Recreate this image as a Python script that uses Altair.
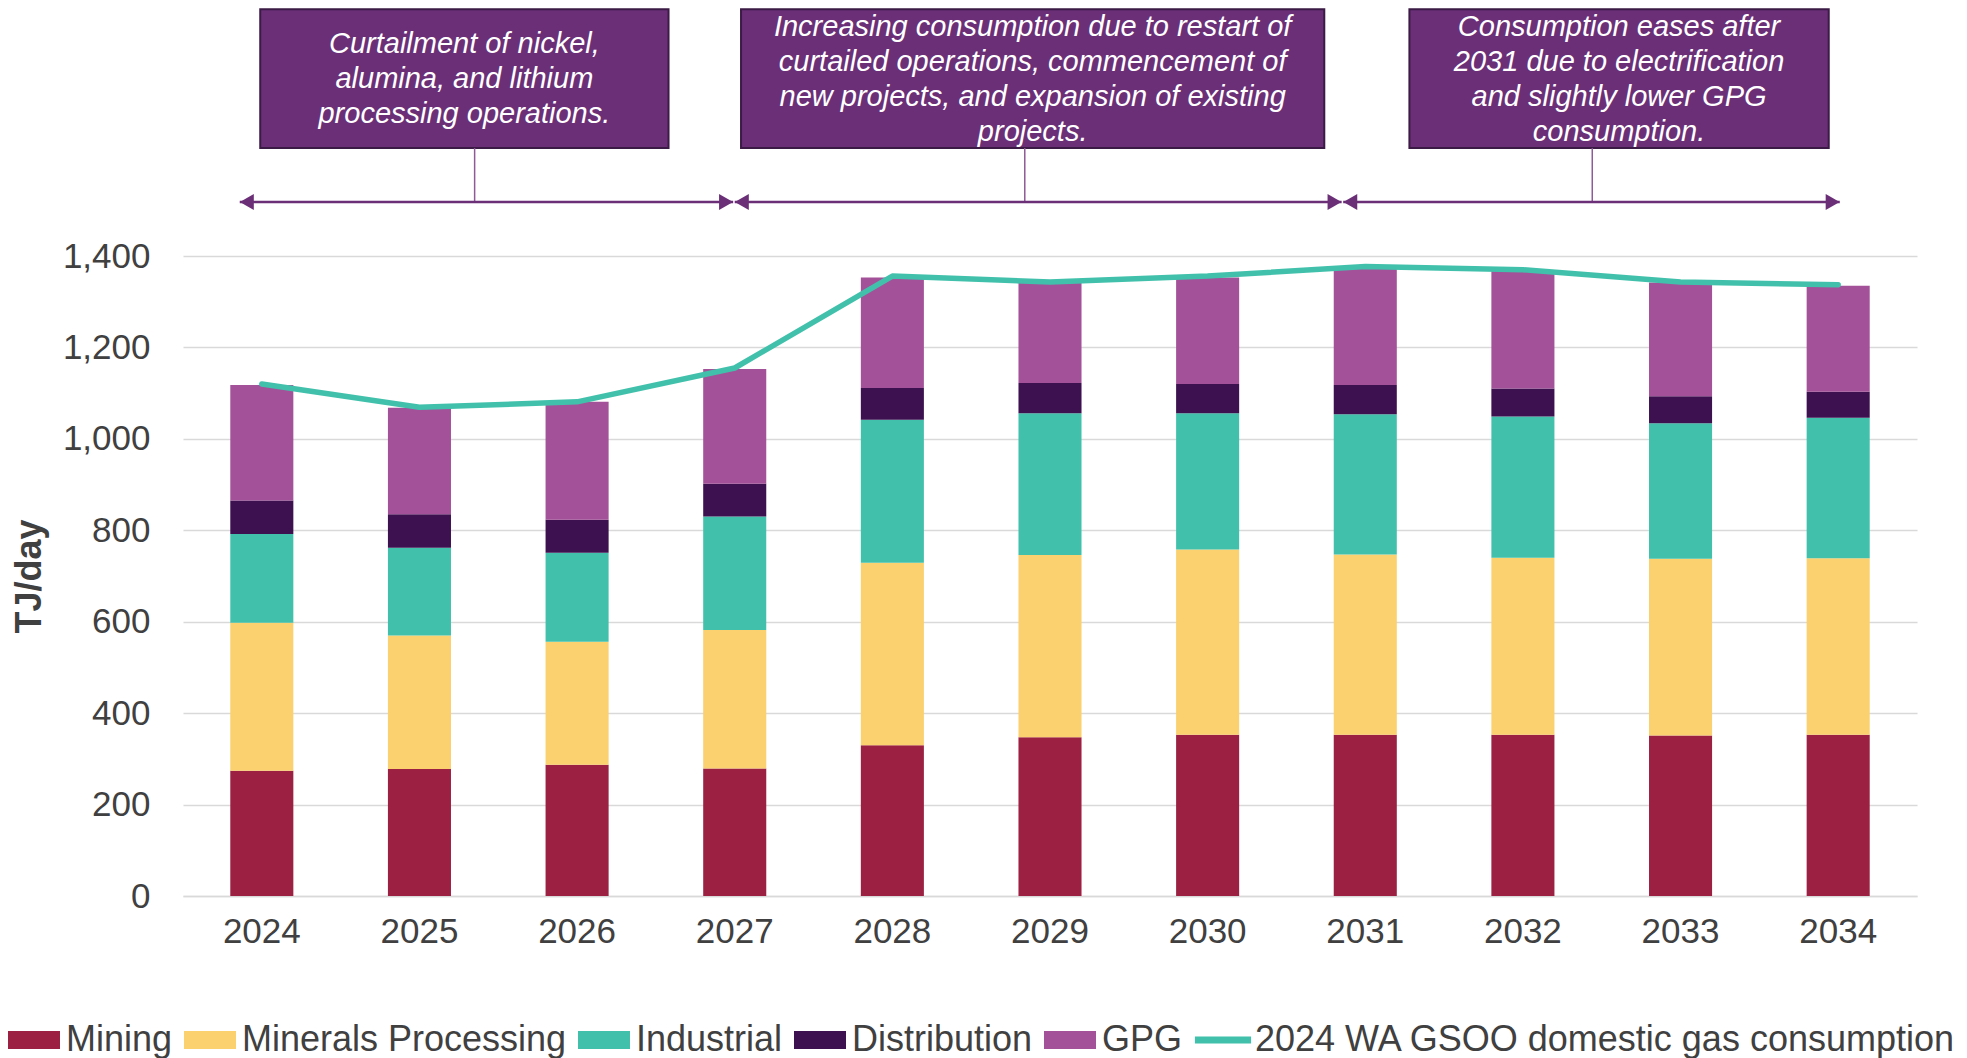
import altair as alt
import pandas as pd

# ---------------- data ----------------
years = ["2024", "2025", "2026", "2027", "2028", "2029", "2030", "2031", "2032", "2033", "2034"]
series = ["Mining", "Minerals Processing", "Industrial", "Distribution", "GPG"]
mining = [274, 278, 287, 279, 330, 347, 353, 353, 353, 351, 353]
minerals = [324, 292, 269, 303, 399, 399, 405, 394, 387, 387, 386]
industrial = [194, 192, 195, 248, 313, 310, 298, 307, 309, 296, 307]
distribution = [73, 73, 72, 72, 69, 66, 64, 64, 61, 59, 57]
gpg = [253, 233, 258, 251, 242, 220, 233, 254, 258, 249, 232]
line_name = "2024 WA GSOO domestic gas consumption"
gsoo = [1120, 1069, 1081, 1155, 1356, 1343, 1356, 1377, 1370, 1343, 1337]

colors = ["#9B2042", "#FBD06E", "#41C1AB", "#3D1050", "#A35199", "#41C1AB"]

# annotation texts and their extents (in year units)
note_text = [
    "Curtailment of nickel,\nalumina, and lithium\nprocessing operations.",
    "Increasing consumption due to restart of\ncurtailed operations, commencement of\nnew projects, and expansion of existing\nprojects.",
    "Consumption eases after\n2031 due to electrification\nand slightly lower GPG\nconsumption.",
]
note_x1 = [2023.99, 2027.04, 2031.28]
note_x2 = [2026.58, 2030.74, 2033.94]
note_stem = [2025.35, 2028.84, 2032.44]
note_first_line = [1864, 1902, 1902]
arrow_x1 = [2023.86, 2027.00, 2030.86]
arrow_x2 = [2026.99, 2030.85, 2034.01]

# ---------------- frames ----------------
seg_vals = [mining, minerals, industrial, distribution, gpg]
bars_df = pd.DataFrame(
    [
        {"Year": y, "Series": s, "Value": seg_vals[i][j], "idx": i}
        for i, s in enumerate(series)
        for j, y in enumerate(years)
    ]
)
line_df = pd.DataFrame({"Year": years, "Value": gsoo})
all_series = series + [line_name]
legend_df = pd.DataFrame({"Series": all_series, "Year": [years[0]] * 6, "Value": [0] * 6})

box_top, box_bottom, arrow_y = 1940, 1636, 1518
notes_df = pd.DataFrame(
    {
        "text": note_text,
        "x1": note_x1,
        "x2": note_x2,
        "xc": [(a + b) / 2 for a, b in zip(note_x1, note_x2)],
        "stem": note_stem,
        "ax1": arrow_x1,
        "ax2": arrow_x2,
        "hl": [a + 0.045 for a in arrow_x1],
        "hr": [b - 0.045 for b in arrow_x2],
        "yt": [box_top] * 3,
        "yb": [box_bottom] * 3,
        "ya": [arrow_y] * 3,
        "ytext": note_first_line,
    }
)

FONT = "Liberation Sans"
GREY = "#404040"
PURPLE = "#6B2F78"

yscale = alt.Scale(domain=[0, 1400], nice=False)
xband = alt.Scale(paddingInner=0.6, paddingOuter=0.3)
xq = alt.Scale(domain=[2023.5, 2034.5], nice=False, zero=False)
cscale = alt.Scale(domain=all_series, range=colors)

y_axis = alt.Axis(
    values=[0, 200, 400, 600, 800, 1000, 1200, 1400],
    format=",.0f",
    labelFontSize=35,
    labelFont=FONT,
    labelColor=GREY,
    labelPadding=33,
    ticks=False,
    domain=False,
    grid=True,
    gridColor="#d9d9d9",
    gridWidth=1.5,
    title="TJ/day",
    titleFontSize=36,
    titleFont=FONT,
    titleFontWeight="bold",
    titleColor=GREY,
    titlePadding=14,
)
x_axis = alt.Axis(
    labelAngle=0,
    labelFontSize=35,
    labelFont=FONT,
    labelColor=GREY,
    labelPadding=18,
    ticks=False,
    grid=False,
    domainColor="#d9d9d9",
    domainWidth=1.5,
    title=None,
)


def ypos(field):
    return alt.Y(field, scale=yscale, axis=y_axis)


rect_path = "M-1,-0.346H1V0.346H-1Z"
paths = [rect_path] * 5 + ["M-1.08,-0.13H1.08V0.13H-1.08Z"]
leg = alt.Legend(
    title=None,
    orient="none",
    legendX=-175,
    legendY=758,
    direction="horizontal",
    symbolSize=2704,
    symbolStrokeWidth=0,
    symbolOpacity=1,
    labelFontSize=36,
    labelFont=FONT,
    labelColor=GREY,
    labelOffset=6,
    labelLimit=2000,
    columnPadding=11,
    padding=0,
)
legend_pts = alt.Chart(legend_df).mark_point(filled=True, opacity=0).encode(
    x=alt.X("Year:N", sort=years, scale=xband, axis=x_axis),
    y=ypos("Value:Q"),
    color=alt.Color("Series:N", scale=cscale, legend=leg),
    shape=alt.Shape("Series:N", scale=alt.Scale(domain=all_series, range=paths), legend=leg),
)

bars = alt.Chart(bars_df).mark_bar().encode(
    x=alt.X("Year:N", sort=years, scale=xband, axis=x_axis),
    y=alt.Y("Value:Q", stack="zero", scale=yscale, axis=y_axis),
    color=alt.Color("Series:N", scale=cscale, legend=leg),
    order=alt.Order("idx:Q", sort="ascending"),
)

line = alt.Chart(line_df).mark_line(
    color="#41C1AB", strokeWidth=5.5, strokeCap="round", strokeJoin="round"
).encode(
    x=alt.X("Year:N", sort=years, scale=xband, axis=x_axis),
    y=ypos("Value:Q"),
)

main = alt.layer(legend_pts, bars, line)

# ---------------- annotations ----------------
nbase = alt.Chart(notes_df)
boxes = nbase.mark_rect(fill=PURPLE, stroke="#3B1A45", strokeWidth=2).encode(
    x=alt.X("x1:Q", scale=xq, axis=None),
    x2="x2:Q",
    y=ypos("yt:Q"),
    y2="yb:Q",
)
stems = nbase.mark_rule(color="#8E5A98", strokeWidth=1.5).encode(
    x=alt.X("stem:Q", scale=xq, axis=None),
    y=ypos("yb:Q"),
    y2="ya:Q",
)
arrows = nbase.mark_rule(color=PURPLE, strokeWidth=2.5).encode(
    x=alt.X("ax1:Q", scale=xq, axis=None),
    x2="ax2:Q",
    y=ypos("ya:Q"),
)
heads_l = nbase.mark_point(filled=True, color=PURPLE, size=260, opacity=1, shape="triangle-left").encode(
    x=alt.X("hl:Q", scale=xq, axis=None),
    y=ypos("ya:Q"),
)
heads_r = nbase.mark_point(filled=True, color=PURPLE, size=260, opacity=1, shape="triangle-right").encode(
    x=alt.X("hr:Q", scale=xq, axis=None),
    y=ypos("ya:Q"),
)
texts = nbase.mark_text(
    font=FONT,
    fontSize=29,
    fontStyle="italic",
    color="white",
    lineBreak="\n",
    lineHeight=35,
    align="center",
    baseline="middle",
).encode(
    x=alt.X("xc:Q", scale=xq, axis=None),
    y=ypos("ytext:Q"),
    text="text:N",
)
notes = alt.layer(boxes, stems, arrows, heads_l, heads_r, texts)

chart = (
    alt.layer(main, notes)
    .resolve_scale(x="independent")
    .properties(width=1734, height=640, padding=0)
    .configure_view(stroke=None)
)

chart.save("out.html", embed_options={"renderer": "svg", "actions": False})
